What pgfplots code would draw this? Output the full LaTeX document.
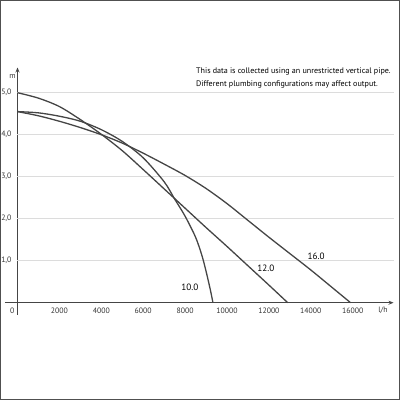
\documentclass[border=0pt]{standalone}
\usepackage{fontspec}
\setmainfont{PT Sans}
\usepackage{pgfplots}
\pgfplotsset{compat=1.18}
\usetikzlibrary{arrows.meta}
\definecolor{curve}{HTML}{454545}
\definecolor{gridc}{HTML}{DCDCDC}
\definecolor{framec}{HTML}{505050}

\begin{document}
\begin{tikzpicture}[x=1bp,y=1bp]
\useasboundingbox (0,0) rectangle (400,400);
\draw[framec, line width=1.5bp] (0.75,0.75) rectangle (399.25,399.25);

% note text above the plot
\node[anchor=base west, inner sep=0, font=\fontsize{8.1}{10}\selectfont] at (196,326.5)
  {This data is collected using an unrestricted vertical pipe.};
\node[anchor=base west, inner sep=0, font=\fontsize{8.1}{10}\selectfont] at (196,314)
  {Different plumbing configurations may affect output.};

\begin{axis}[
    at={(4.93bp,85.1bp)}, anchor=south west,
    width=388.6bp, height=247.4bp, scale only axis,
    xmin=-600, xmax=17950,
    ymin=-0.29, ymax=5.6,
    axis lines=middle,
    axis line style={curve, line width=0.8bp, -{Stealth[length=5bp,width=4bp]}},
    xtick={2000,4000,...,16000},
    ytick={1,2,3,4,5},
    major tick length=0,
    scaled x ticks=false,
    tick label style={font=\fontsize{7.8}{9}\selectfont, text=black!80},
    /pgf/number format/assume math mode=true,
    xticklabel style={anchor=center, yshift=-8bp, /pgf/number format/1000 sep={}},
    yticklabel style={anchor=east, xshift=-2.5bp,
        /pgf/number format/.cd, use comma, fixed, fixed zerofill, precision=1},
    clip=false,
]

% horizontal grid lines from the y axis
\draw[gridc, line width=0.8bp] (axis cs:0,1) -- (axis cs:17950,1);
\draw[gridc, line width=0.8bp] (axis cs:0,2) -- (axis cs:17950,2);
\draw[gridc, line width=0.8bp] (axis cs:0,3) -- (axis cs:17950,3);
\draw[gridc, line width=0.8bp] (axis cs:0,4) -- (axis cs:17950,4);
\draw[gridc, line width=0.8bp] (axis cs:0,5) -- (axis cs:17950,5);

% 10.0
\addplot[curve, line width=1.3bp, smooth] coordinates {
    (0,4.55)(1000,4.52)(2000,4.44)(3000,4.32)(4000,4.12)(5000,3.84)
    (6000,3.45)(7000,2.88)(7500,2.47)(8000,2.06)(8500,1.56)(8800,1.13)
    (9000,0.75)(9200,0.32)(9330,0)
};
% 12.0
\addplot[curve, line width=1.3bp, smooth] coordinates {
    (0,5.0)(1000,4.87)(2000,4.67)(3000,4.36)(4000,4.01)(5000,3.62)
    (6000,3.17)(7000,2.71)(8000,2.25)(9000,1.79)(10000,1.34)(11000,0.88)
    (12000,0.42)(12900,0)
};
% 16.0
\addplot[curve, line width=1.3bp, smooth] coordinates {
    (0,4.55)(1000,4.45)(2000,4.32)(3000,4.17)(4000,4.0)(5000,3.80)
    (6000,3.56)(7000,3.30)(8000,3.03)(9000,2.72)(10000,2.36)(11000,1.96)
    (12000,1.56)(13000,1.17)(14000,0.78)(15000,0.37)(15900,0)
};

\node[font=\fontsize{9.2}{11}\selectfont] at (axis cs:8230,0.37) {10.0};
\node[font=\fontsize{9.2}{11}\selectfont] at (axis cs:11860,0.82) {12.0};
\node[font=\fontsize{9.2}{11}\selectfont] at (axis cs:14250,1.11) {16.0};
\end{axis}

% axis captions and the zero at the corner
\node[font=\fontsize{7.8}{9}\selectfont, text=black!80] at (12.3,89.3) {0};
\node[font=\fontsize{7.8}{9}\selectfont, text=black!80] at (383,89.3) {l/h};
\node[font=\fontsize{7.8}{9}\selectfont, text=black!80] at (12.5,323) {m};
\end{tikzpicture}
\end{document}
